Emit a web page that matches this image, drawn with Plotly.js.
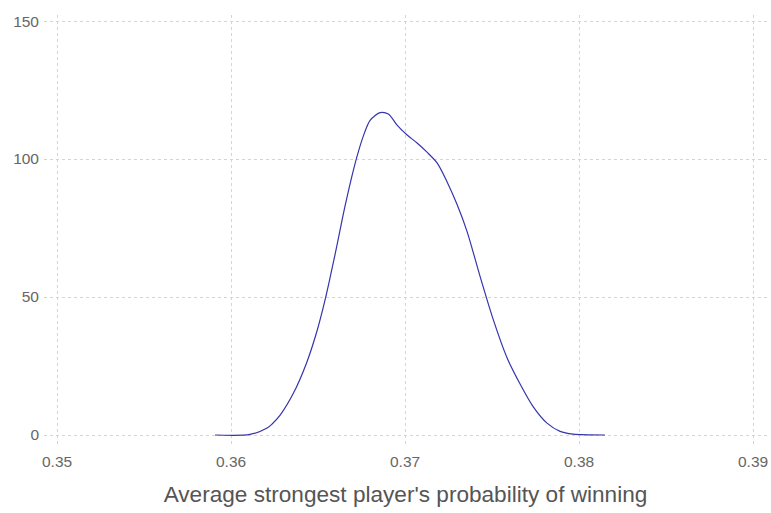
<!DOCTYPE html>
<html>
<head>
<meta charset="utf-8">
<script src="https://cdn.plot.ly/plotly-3.0.1.min.js"></script>
<style>html,body{margin:0;padding:0;background:#fff;}#chart{width:771px;height:513px;}</style>
</head>
<body>
<div id="chart"></div>
<script>
// Density estimate of the average strongest player's probability of winning
const probability = [0.35908, 0.36109, 0.36207, 0.36236, 0.36282, 0.36358, 0.36435, 0.36493, 0.36540, 0.36569,
  0.36608, 0.36645, 0.36684, 0.36722, 0.36760, 0.36799, 0.36856, 0.36904, 0.36954, 0.37012,
  0.37069, 0.37126, 0.37184, 0.37241, 0.37299, 0.37356, 0.37431, 0.37506, 0.37586, 0.37661,
  0.37736, 0.37816, 0.37891, 0.37966, 0.38149];
const density = [0, 0.2, 2.5, 4.0, 7.2, 15.1, 26.3, 37.5, 48.9, 57.0,
  68.5, 80.0, 91.0, 100.5, 108.3, 114.0, 116.8, 116.3, 112.3, 108.7,
  105.8, 102.5, 98.6, 91.8, 83.5, 73.8, 57.5, 42.0, 28.0, 18.5,
  10.3, 4.3, 1.3, 0.3, 0];
const xTicks = [0.35, 0.36, 0.37, 0.38, 0.39];
const yTicks = [0, 50, 100, 150];
const xTitle = "Average strongest player's probability of winning";

const trace = {
  x: probability, y: density, type: 'scatter', mode: 'lines',
  line: {color: '#3535ad', width: 1.2, shape: 'spline', smoothing: 0.8},
  hoverinfo: 'skip'
};
const gridCol = '#d2d2e4';
const layout = {
  width: 771, height: 513,
  margin: {l: 44, r: 4, t: 15, b: 66},
  paper_bgcolor: '#ffffff', plot_bgcolor: '#ffffff',
  showlegend: false,
  font: {family: 'Liberation Sans, Arial, sans-serif', color: '#666'},
  xaxis: {
    range: [0.34925, 0.39080],
    tickvals: xTicks, ticktext: xTicks.map(v => v.toFixed(2)),
    showgrid: true, gridcolor: gridCol, griddash: 'dot', gridwidth: 1,
    zeroline: false, showline: false, ticks: '',
    tickfont: {size: 15.5, color: '#666'},
    ticklabelstandoff: 3,
    title: {text: xTitle, font: {size: 22.6, color: '#555'}, standoff: 17}
  },
  yaxis: {
    range: [-4.35, 152.2],
    tickvals: yTicks, ticktext: yTicks.map(String),
    showgrid: true, gridcolor: gridCol, griddash: 'dot', gridwidth: 1,
    zeroline: false, showline: false, ticks: '',
    tickfont: {size: 15.5, color: '#666'},
    ticklabelstandoff: 4
  }
};
Plotly.newPlot('chart', [trace], layout, {displayModeBar: false, staticPlot: true});
</script>
</body>
</html>
